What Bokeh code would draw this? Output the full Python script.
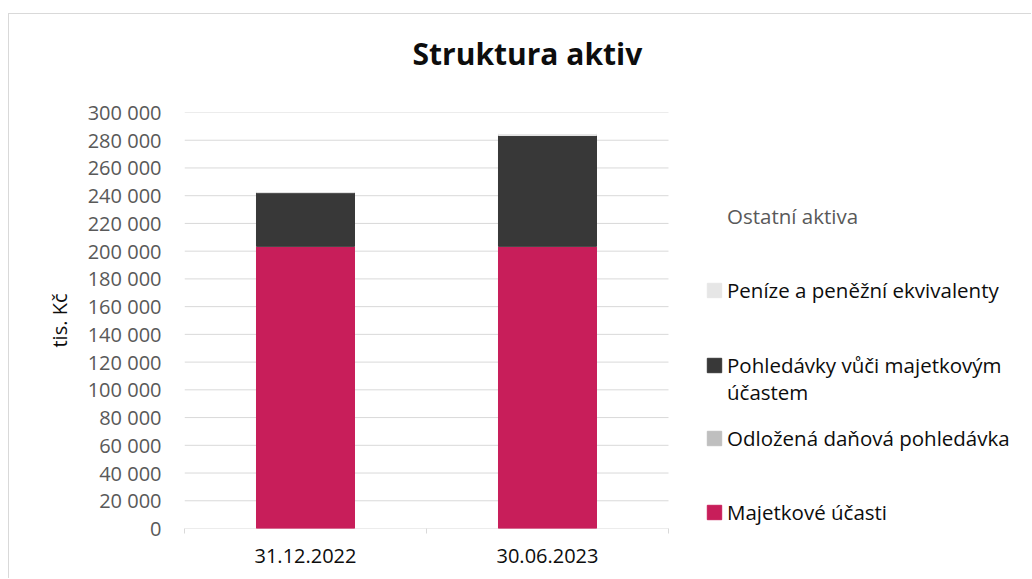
from bokeh.plotting import figure
from bokeh.models import ColumnDataSource, Range1d, FixedTicker, Legend, LegendItem, Title
from bokeh.embed import file_html
from bokeh.resources import INLINE

# ---- data (tis. Kč) ----
categories = ["31.12.2022", "30.06.2023"]
series_names = [
    "Majetkové účasti",
    "Odložená daňová pohledávka",
    "Pohledávky vůči majetkovým účastem",
    "Peníze a peněžní ekvivalenty",
    "Ostatní aktiva",
]
majetkove_ucasti = [203400, 203400]
odlozena_danova_pohledavka = [100, 100]
pohledavky_vuci_ucastem = [38700, 79900]
penize_a_ekvivalenty = [1000, 1400]
ostatni_aktiva = [100, 100]
y_ticks = list(range(0, 300001, 20000))

colors = ["#C81E5A", "#BFBFBF", "#383838", "#E6E6E6", "#FFFFFF"]
FONT = "Open Sans"
GRID = "#D9D9D9"

keys = ["maj", "odl", "pohl", "pen", "ost"]
x_pos = [i + 1 for i in range(len(categories))]
source = ColumnDataSource(data=dict(
    x=x_pos,
    maj=majetkove_ucasti,
    odl=odlozena_danova_pohledavka,
    pohl=pohledavky_vuci_ucastem,
    pen=penize_a_ekvivalenty,
    ost=ostatni_aktiva,
))

# plot area spans categories; extra room on the right (in category units) holds the legend
x_start = 0.5
x_cat_end = len(categories) + 0.5
legend_room = 364 / 242

p = figure(
    width=1023, height=565,
    x_range=Range1d(x_start, x_cat_end + legend_room),
    y_range=Range1d(0, 300000),
    output_backend="svg", toolbar_location=None,
    min_border_left=175, min_border_right=0,
    min_border_top=98, min_border_bottom=51,
    margin=(13, 0, 0, 8),
)
p.styles = {"border-top": "1px solid #d9d9d9", "border-left": "1px solid #d9d9d9"}
p.outline_line_color = None
p.background_fill_color = "white"
p.border_fill_color = "white"

# horizontal gridlines limited to the category area
p.segment(x0=x_start, x1=x_cat_end, y0=y_ticks, y1=y_ticks, line_color=GRID, line_width=1)

renderers = p.vbar_stack(keys, x="x", width=0.405, color=colors, source=source)

# ---- title (with a blank spacer panel between it and the plot area) ----
p.add_layout(Title(text=" ", text_font_size="2px", standoff=35), "above")
p.title.text = "Struktura aktiv"
p.title.align = "left"
p.title.offset = 228
p.title.standoff = 0
p.title.text_font = FONT
p.title.text_font_style = "bold"
p.title.text_font_size = "30px"
p.title.text_color = "#0D0D0D"

# ---- axes ----
p.xaxis.ticker = FixedTicker(ticks=x_pos, minor_ticks=[i + 0.5 for i in range(len(categories) + 1)])
p.xaxis.major_label_overrides = {x: c for x, c in zip(x_pos, categories)}
p.xaxis.axis_line_color = None
p.xaxis.major_tick_line_color = None
p.xaxis.minor_tick_line_color = GRID
p.xaxis.minor_tick_in = 0
p.xaxis.minor_tick_out = 5
p.xaxis.major_label_text_font = FONT
p.xaxis.major_label_text_font_size = "20px"
p.xaxis.major_label_text_color = "#0D0D0D"
p.xaxis.major_label_standoff = 14

p.yaxis.ticker = FixedTicker(ticks=y_ticks)
p.yaxis.major_label_overrides = {v: f"{v:,}".replace(",", " ") for v in y_ticks}
p.yaxis.axis_line_color = None
p.yaxis.major_tick_line_color = None
p.yaxis.minor_tick_line_color = None
p.yaxis.major_label_text_font = FONT
p.yaxis.major_label_text_font_size = "20px"
p.yaxis.major_label_text_color = "#595959"
p.yaxis.major_label_standoff = 17
p.yaxis.axis_label = "tis. Kč"
p.yaxis.axis_label_text_font = FONT
p.yaxis.axis_label_text_font_size = "20px"
p.yaxis.axis_label_text_font_style = "normal"
p.yaxis.axis_label_text_color = "#0D0D0D"
p.yaxis.axis_label_standoff = 12

p.xgrid.visible = False
p.ygrid.visible = False

# ---- legend (one entry per Legend to reproduce Excel spacing) ----
dummy = p.vbar(x=[], top=[], width=0.1, fill_alpha=0, line_alpha=0)
r_by_name = dict(zip(series_names, renderers))
frame_bottom = 528
legend_entries = [
    ("Ostatní aktiva", r_by_name["Ostatní aktiva"], 216, "#595959"),
    ("Peníze a peněžní ekvivalenty", r_by_name["Peníze a peněžní ekvivalenty"], 290, "#0D0D0D"),
    ("Pohledávky vůči majetkovým", r_by_name["Pohledávky vůči majetkovým účastem"], 365, "#0D0D0D"),
    ("účastem", dummy, 392, "#0D0D0D"),
    ("Odložená daňová pohledávka", r_by_name["Odložená daňová pohledávka"], 438, "#0D0D0D"),
    ("Majetkové účasti", r_by_name["Majetkové účasti"], 512, "#0D0D0D"),
]
for label, r, cy, col in legend_entries:
    lg = Legend(
        items=[LegendItem(label=label, renderers=[r])],
        location=(521, frame_bottom - cy - 14),
        padding=0, margin=0, spacing=0,
        border_line_color=None, background_fill_alpha=0,
        glyph_width=18, glyph_height=18, label_standoff=4, label_height=28,
        label_text_font=FONT, label_text_font_size="20.5px", label_text_color=col,
    )
    p.add_layout(lg)

open("out.html", "w").write(file_html(p, INLINE))
